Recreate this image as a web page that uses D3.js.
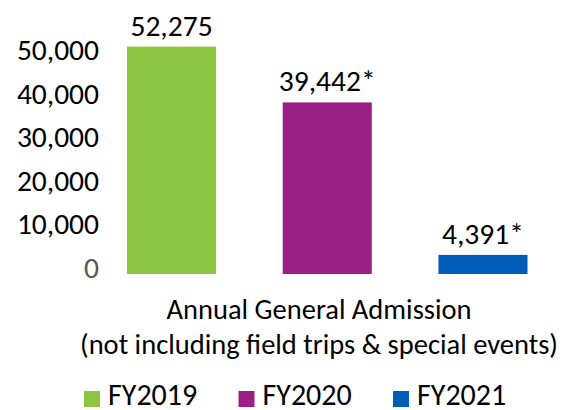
<!DOCTYPE html>
<html><head><meta charset="utf-8">
<script src="https://cdn.jsdelivr.net/npm/d3@7"></script>
<style>
html,body{margin:0;padding:0;background:#fff;}
svg text{font-family:Carlito,Lato,"Open Sans",sans-serif;}
</style></head>
<body><svg id="chart" width="569" height="410"></svg>
<script>
const series = ["FY2019", "FY2020", "FY2021"];
const values = [52275, 39442, 4391];
const notes = ["", "*", "*"];
const colors = ["#8CC53F", "#9C1F86", "#005CB9"];
const tickValues = [0, 10000, 20000, 30000, 40000, 50000];
const categoryLines = ["Annual General Admission", "(not including field trips & special events)"];

const svg = d3.select("#chart");
const y = d3.scaleLinear().domain([0, 50000]).range([274, 56.5]);
const x = d3.scaleBand().domain(series).range([127, 527.5]).paddingInner(0.428).paddingOuter(0);

// y axis
const ax = svg.append("g").attr("transform", "translate(102,0)")
  .call(d3.axisLeft(y).tickValues(tickValues).tickFormat(d3.format(",")).tickSize(0).tickPadding(3));
ax.select(".domain").remove();
ax.selectAll("text").attr("font-size", 29.5).attr("y", -6)
  .attr("fill", d => d === 0 ? "#595959" : "#000")
  .style("font-family", "Carlito,Lato,sans-serif");

// bars
svg.selectAll("rect.bar").data(values).join("rect").attr("class", "bar")
  .attr("x", (d, i) => x(series[i]))
  .attr("width", x.bandwidth())
  .attr("y", d => y(d))
  .attr("height", d => y(0) - y(d))
  .attr("fill", (d, i) => colors[i]);

// value labels
svg.selectAll("text.val").data(values).join("text").attr("class", "val")
  .attr("x", (d, i) => x(series[i]) + x.bandwidth() / 2)
  .attr("y", d => y(d) - 11)
  .attr("text-anchor", "middle").attr("font-size", 29.5).attr("fill", "#000")
  .text((d, i) => d3.format(",")(d) + notes[i]);

// category label
svg.selectAll("text.cat").data(categoryLines).join("text").attr("class", "cat")
  .attr("x", 319).attr("y", (d, i) => 319 + i * 35)
  .attr("text-anchor", "middle").attr("font-size", 28.5).attr("fill", "#000")
  .text(d => d);

// legend
const lx = d3.scalePoint().domain(series).range([84, 393]);
const lg = svg.selectAll("g.leg").data(series).join("g").attr("class", "leg")
  .attr("transform", d => `translate(${lx(d)},391)`);
lg.append("rect").attr("width", 16).attr("height", 16).attr("fill", (d, i) => colors[i]);
lg.append("text").attr("x", 24).attr("y", 14).attr("font-size", 30).attr("fill", "#000").text(d => d);
</script></body></html>
